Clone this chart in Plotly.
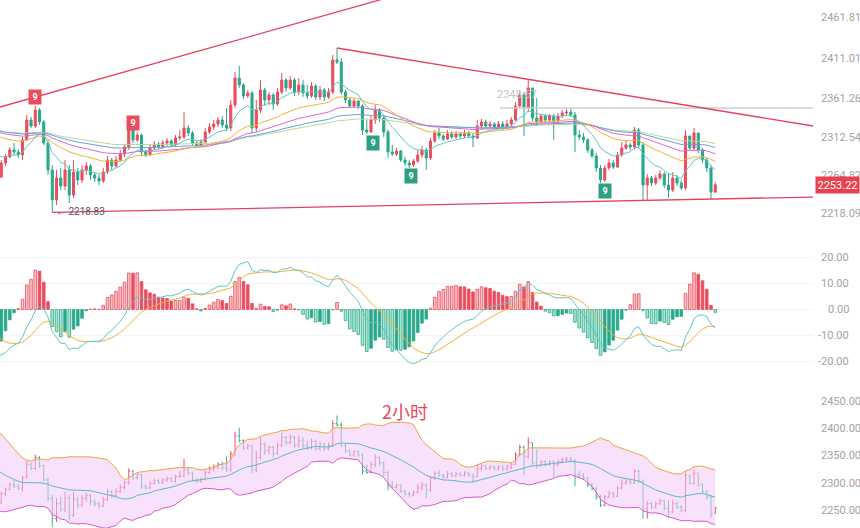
import numpy as np
import pandas as pd
import plotly.graph_objects as go

# ---------------- data ----------------
# closes before the first visible candle (only used to warm up the indicators)
prior_close = [2318, 2322, 2326, 2320, 2330, 2336, 2342, 2350, 2358, 2366,
               2372, 2378, 2372, 2368, 2360, 2352, 2346, 2338, 2332, 2326,
               2318, 2312, 2306, 2300, 2294, 2288, 2282, 2276, 2270, 2262.9]

close = [2280.3, 2287.8, 2296.5, 2294.0, 2290.3, 2308.9, 2333.8, 2326.3, 2346.2, 2331.3,
         2305.2, 2271.6, 2234.3, 2261.6, 2251.7, 2271.6, 2240.5, 2269.1, 2259.2, 2271.6,
         2276.6, 2265.4, 2261.6, 2257.9, 2269.1, 2284.0, 2276.6, 2284.0, 2291.5, 2300.2,
         2321.3, 2308.9, 2315.1, 2294.0, 2290.3, 2299.0, 2303.9, 2300.2, 2305.2, 2307.7,
         2302.7, 2311.4, 2312.6, 2323.8, 2317.6, 2305.2, 2302.7, 2306.4, 2318.9, 2325.1,
         2328.8, 2333.8, 2327.6, 2323.8, 2352.4, 2386.0, 2377.3, 2363.6, 2367.4, 2323.8,
         2346.2, 2371.1, 2358.7, 2364.9, 2353.7, 2368.6, 2383.5, 2373.6, 2383.5, 2368.6,
         2377.3, 2367.4, 2363.6, 2376.1, 2362.4, 2371.1, 2362.4, 2368.6, 2408.4, 2405.9,
         2368.6, 2358.7, 2351.2, 2357.4, 2351.2, 2321.3, 2318.9, 2333.8, 2346.2, 2336.3,
         2318.9, 2294.0, 2291.5, 2295.2, 2284.0, 2280.3, 2277.8, 2282.8, 2290.3, 2296.5,
         2286.5, 2307.7, 2317.6, 2313.9, 2310.1, 2316.4, 2312.6, 2316.4, 2313.9, 2317.6,
         2313.9, 2311.4, 2326.3, 2331.3, 2326.3, 2328.8, 2325.1, 2328.8, 2325.1, 2328.8,
         2333.8, 2351.2, 2364.9, 2348.7, 2373.6, 2336.3, 2331.3, 2338.8, 2333.8, 2338.8,
         2332.5, 2338.8, 2342.5, 2343.7, 2340.0, 2315.1, 2312.6, 2308.9, 2296.5, 2289.0,
         2274.1, 2259.2, 2274.1, 2280.3, 2275.3, 2290.3, 2299.0, 2302.7, 2300.2, 2321.3,
         2302.7, 2252.9, 2261.6, 2255.4, 2261.6, 2266.6, 2252.9, 2246.7, 2261.6, 2255.4,
         2249.2, 2313.9, 2299.0, 2317.6, 2296.5, 2284.0, 2274.1, 2244.2, 2253.22]

high = [2284.0, 2291.5, 2300.2, 2305.2, 2297.7, 2312.6, 2340.0, 2337.5, 2351.2, 2348.7,
        2333.8, 2308.9, 2277.8, 2271.6, 2274.1, 2284.0, 2277.8, 2284.0, 2274.1, 2277.8,
        2281.6, 2279.1, 2269.1, 2265.4, 2274.1, 2289.0, 2286.5, 2289.0, 2296.5, 2302.7,
        2326.3, 2322.6, 2318.9, 2316.4, 2296.5, 2302.7, 2307.7, 2306.4, 2308.9, 2311.4,
        2310.1, 2315.1, 2321.3, 2343.7, 2327.6, 2320.1, 2308.9, 2310.1, 2323.8, 2330.0,
        2333.8, 2337.5, 2338.8, 2348.7, 2358.7, 2393.5, 2401.0, 2379.8, 2371.1, 2369.8,
        2358.7, 2383.5, 2373.6, 2368.6, 2367.4, 2373.6, 2392.2, 2386.0, 2388.5, 2386.0,
        2386.0, 2383.5, 2377.3, 2381.0, 2378.5, 2376.1, 2373.6, 2373.6, 2414.6, 2423.3,
        2410.9, 2371.1, 2361.1, 2359.9, 2358.7, 2353.7, 2333.8, 2338.8, 2352.4, 2348.7,
        2338.8, 2321.3, 2302.7, 2299.0, 2296.5, 2287.8, 2284.0, 2285.3, 2296.5, 2301.5,
        2299.0, 2311.4, 2321.3, 2323.8, 2316.4, 2321.3, 2320.1, 2320.1, 2318.9, 2321.3,
        2320.1, 2317.6, 2333.8, 2335.0, 2333.8, 2332.5, 2331.3, 2332.5, 2332.5, 2333.8,
        2337.5, 2356.2, 2369.8, 2368.6, 2383.5, 2373.6, 2361.1, 2341.2, 2341.2, 2341.2,
        2341.2, 2342.5, 2346.2, 2347.5, 2347.5, 2343.7, 2321.3, 2317.6, 2311.4, 2299.0,
        2292.7, 2277.8, 2277.8, 2285.3, 2284.0, 2294.0, 2306.4, 2307.7, 2305.2, 2325.1,
        2323.8, 2306.4, 2266.6, 2264.1, 2265.4, 2271.6, 2269.1, 2267.9, 2269.1, 2265.4,
        2259.2, 2321.3, 2313.9, 2323.8, 2317.6, 2299.0, 2286.5, 2277.8, 2256.7]

low = [2261.6, 2276.6, 2286.5, 2290.3, 2286.5, 2284.0, 2308.9, 2323.8, 2323.8, 2327.6,
       2302.7, 2265.4, 2218.83, 2228.1, 2246.7, 2246.7, 2230.6, 2236.8, 2252.9, 2255.4,
       2265.4, 2259.2, 2256.7, 2252.9, 2255.4, 2266.6, 2271.6, 2274.1, 2281.6, 2287.8,
       2296.5, 2305.2, 2306.4, 2289.0, 2287.8, 2289.0, 2296.5, 2297.7, 2297.7, 2301.5,
       2300.2, 2300.2, 2308.9, 2310.1, 2313.9, 2302.7, 2299.0, 2300.2, 2303.9, 2316.4,
       2321.3, 2325.1, 2323.8, 2320.1, 2320.1, 2348.7, 2373.6, 2359.9, 2361.1, 2317.6,
       2318.9, 2342.5, 2351.2, 2352.4, 2346.2, 2351.2, 2366.1, 2368.6, 2371.1, 2363.6,
       2364.9, 2362.4, 2359.9, 2361.1, 2358.7, 2358.7, 2357.4, 2359.9, 2366.1, 2403.4,
       2364.9, 2354.9, 2348.7, 2348.7, 2347.5, 2315.1, 2316.4, 2317.6, 2328.8, 2331.3,
       2312.6, 2286.5, 2289.0, 2289.0, 2281.6, 2276.6, 2274.1, 2275.3, 2280.3, 2286.5,
       2271.6, 2284.0, 2305.2, 2310.1, 2307.7, 2308.9, 2310.1, 2310.1, 2311.4, 2311.4,
       2311.4, 2300.2, 2310.1, 2322.6, 2323.8, 2323.8, 2322.6, 2322.6, 2321.3, 2322.6,
       2325.1, 2332.5, 2348.7, 2313.9, 2343.7, 2332.5, 2326.3, 2330.0, 2330.0, 2331.3,
       2308.9, 2330.0, 2336.3, 2338.8, 2337.5, 2294.0, 2308.9, 2305.2, 2292.7, 2286.5,
       2269.1, 2255.4, 2256.7, 2271.6, 2272.8, 2274.1, 2287.8, 2296.5, 2296.5, 2297.7,
       2299.0, 2234.3, 2234.3, 2251.7, 2252.9, 2259.2, 2249.2, 2236.8, 2244.2, 2251.7,
       2246.7, 2246.7, 2296.5, 2296.5, 2292.7, 2280.3, 2269.1, 2235.5, 2243.0]

# drawn lines: (candle index, price) end points
trend_up_left = [(-0.3, 2349.9), (90.0, 2484.5)]
trend_down = [(79.0, 2423.3), (191.0, 2326.3)]
trend_bottom = [(12.0, 2218.83), (191.0, 2238.0)]
level_line = [(117.3, 2348.67), (191.0, 2348.67)]
level_text = "2348.67"
low_text = "← 2218.83"
td9_red = [(8, 2362.4), (31, 2330.0)]
td9_green = [(87.5, 2305.2), (96.4, 2264.1), (142.0, 2245.5)]
last_price = 2253.22

main_ticks = [2218.09, 2264.82, 2312.54, 2361.26, 2411.01, 2461.81]
macd_ticks = [20, 10, 0, -10, -20]
boll_ticks = [2250, 2300, 2350, 2400, 2450]
ma_spans = [10, 30, 50, 75, 100]
ma_colors = ["#5cc8c4", "#f3b23a", "#dc68d6", "#6a9fe0", "#b3dc94"]

# ---------------- derived ----------------
RED = "#ea4d5d"
GREEN = "#2aa88a"
n = len(close)
idx = list(range(n))
opn = [prior_close[-1]] + close[:-1]
high = [max(h, o, c) for h, o, c in zip(high, opn, close)]
low = [min(l, o, c) for l, o, c in zip(low, opn, close)]

allc = pd.Series(prior_close + close, dtype=float)
allx = list(range(-len(prior_close), n))

fig = go.Figure()

# moving averages (main)
for span, col in zip(ma_spans[::-1], ma_colors[::-1]):
    ema = allc.ewm(span=span, adjust=False).mean()
    fig.add_trace(go.Scatter(x=allx, y=ema, mode="lines", line=dict(color=col, width=1),
                             hoverinfo="skip", xaxis="x", yaxis="y"))

# level line
fig.add_trace(go.Scatter(x=[p[0] for p in level_line], y=[p[1] for p in level_line],
                         mode="lines", line=dict(color="#cfcfcf", width=1.5),
                         xaxis="x", yaxis="y"))

fig.add_trace(go.Candlestick(x=idx, open=opn, high=high, low=low, close=close,
                             increasing=dict(line=dict(color=RED, width=1), fillcolor=RED),
                             decreasing=dict(line=dict(color=GREEN, width=1), fillcolor=GREEN),
                             whiskerwidth=0, xaxis="x", yaxis="y"))

for seg in (trend_up_left, trend_down, trend_bottom):
    fig.add_trace(go.Scatter(x=[p[0] for p in seg], y=[p[1] for p in seg], mode="lines",
                             line=dict(color="#e5405e", width=1.3), xaxis="x", yaxis="y"))

# MACD
ema12 = allc.ewm(span=12, adjust=False).mean()
ema26 = allc.ewm(span=26, adjust=False).mean()
dif = ema12 - ema26
dea = dif.ewm(span=9, adjust=False).mean()
hist = 2 * (dif - dea)
fills, lines = [], []
hv = hist.values
for k in range(len(hv)):
    h = hv[k]
    p = hv[k - 1] if k > 0 else 0
    if h >= 0:
        if h >= p:
            fills.append("#f9c0c6"); lines.append(RED)
        else:
            fills.append(RED); lines.append(RED)
    else:
        if h <= p:
            fills.append("#ace5d3"); lines.append(GREEN)
        else:
            fills.append(GREEN); lines.append(GREEN)
fig.add_trace(go.Bar(x=allx, y=hv, marker=dict(color=fills, line=dict(color=lines, width=0.8)),
                     width=0.62, xaxis="x2", yaxis="y2"))
fig.add_trace(go.Scatter(x=allx, y=dea, mode="lines", line=dict(color="#f3b23a", width=1),
                         xaxis="x2", yaxis="y2"))
fig.add_trace(go.Scatter(x=allx, y=dif, mode="lines", line=dict(color="#5cc8c4", width=1),
                         xaxis="x2", yaxis="y2"))

# BOLL
mid = allc.rolling(20, min_periods=1).mean()
sd = allc.rolling(20, min_periods=1).std(ddof=0)
up = mid + 2 * sd
lo = mid - 2 * sd
fig.add_trace(go.Scatter(x=allx, y=lo, mode="lines", line=dict(color="#d957d2", width=1),
                         xaxis="x3", yaxis="y3"))
fig.add_trace(go.Scatter(x=allx, y=up, mode="lines", line=dict(color="#f2a43a", width=1),
                         fill="tonexty", fillcolor="rgba(240,200,248,0.55)",
                         xaxis="x3", yaxis="y3"))
fig.add_trace(go.Scatter(x=allx, y=mid, mode="lines", line=dict(color="#5fb6cc", width=1),
                         xaxis="x3", yaxis="y3"))
fig.add_trace(go.Ohlc(x=idx, open=opn, high=high, low=low, close=close,
                      increasing=dict(line=dict(color="#e8506e", width=1)),
                      decreasing=dict(line=dict(color="#3fb0a0", width=1)),
                      tickwidth=0.35, xaxis="x3", yaxis="y3"))

# ---------------- layout ----------------
xr = [-0.3, 191.0]
axis_x = dict(range=xr, showgrid=False, zeroline=False, showticklabels=False,
              showline=False, ticks="", rangeslider=dict(visible=False), fixedrange=True)
tickfont = dict(family="Roboto, 'Noto Sans', sans-serif", size=11, color="#a3a3a3")

layout = dict(
    width=860, height=528, margin=dict(l=0, r=47, t=0, b=0),
    paper_bgcolor="white", plot_bgcolor="white", showlegend=False,
    xaxis=dict(axis_x, anchor="y", domain=[0, 1]),
    xaxis2=dict(axis_x, anchor="y2", domain=[0, 1], matches="x"),
    xaxis3=dict(axis_x, anchor="y3", domain=[0, 1], matches="x"),
    yaxis=dict(domain=[1 - 230 / 528, 1], range=[2197.0, 2483.0], side="right",
               tickvals=main_ticks, ticktext=[f"{v:.2f}" for v in main_ticks],
               tickfont=tickfont, showgrid=False, zeroline=False, ticks="",
               ticklabelstandoff=7, fixedrange=True),
    yaxis2=dict(domain=[1 - 378 / 528, 1 - 240 / 528], range=[-26.1, 26.48], side="right",
                tickvals=macd_ticks, showticklabels=False,
                showgrid=True, gridcolor="#f4f4f4", zeroline=False, ticks="", fixedrange=True),
    yaxis3=dict(domain=[0, 1 - 385 / 528], range=[2217.1, 2479.3], side="right",
                tickvals=boll_ticks, ticktext=[f"{v:.2f}" for v in boll_ticks],
                tickfont=tickfont, showgrid=False, zeroline=False, ticks="",
                ticklabelstandoff=7, fixedrange=True),
    bargap=0.3,
)
fig.update_layout(**layout)

ann = []
for v in macd_ticks:
    ann.append(dict(x=851 / 813, y=v, xref="paper", yref="y2", text=f"{v:.2f}",
                    showarrow=False, xanchor="right", yanchor="middle", font=tickfont))
for (xi, yv) in td9_red:
    ann.append(dict(x=xi, y=yv, xref="x", yref="y", text="<b>9</b>", showarrow=False,
                    bgcolor=RED, font=dict(color="white", size=9, family="Roboto"),
                    borderpad=1, width=10, height=12))
for (xi, yv) in td9_green:
    ann.append(dict(x=xi, y=yv, xref="x", yref="y", text="<b>9</b>", showarrow=False,
                    bgcolor="#2e9f80", font=dict(color="white", size=9, family="Roboto"),
                    borderpad=1, width=10, height=12))
ann.append(dict(x=12.4, y=trend_bottom[0][1] + 1, xref="x", yref="y", text=low_text,
                showarrow=False, xanchor="left", yanchor="middle",
                font=dict(family="Roboto", size=10, color="#555555")))
ann.append(dict(x=121.3, y=2364.9, xref="x", yref="y", text=level_text, showarrow=False,
                font=dict(family="Roboto", size=11, color="#c4c4c4")))
ann.append(dict(x=815 / 813, y=last_price, xref="paper", yref="y", text=f"{last_price:.2f}",
                showarrow=False, xanchor="left", yanchor="middle", bgcolor="#e8414f",
                font=dict(family="Roboto", size=11, color="white"), width=41, height=14))
ann.append(dict(x=95, y=2431.7, xref="x", yref="y3", text="2小时", showarrow=False,
                font=dict(family="Noto Sans CJK SC", size=18, color="#e8475c")))
fig.update_layout(annotations=ann)

fig.write_html("out.html")
